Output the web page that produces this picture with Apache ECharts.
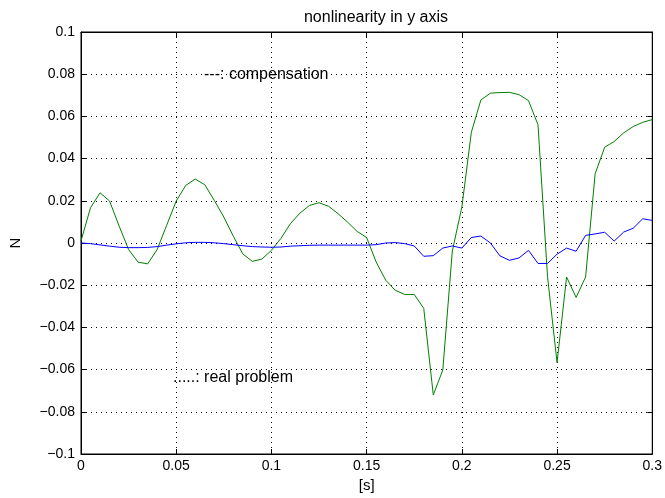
<!DOCTYPE html>
<html>
<head>
<meta charset="utf-8">
<script src="https://cdn.jsdelivr.net/npm/echarts@6/dist/echarts.min.js"></script>
<style>html,body{margin:0;padding:0;background:#fff}#c{width:665px;height:498px}</style>
</head>
<body>
<div id="c"></div>
<script>
const timeS = [0,0.005,0.01,0.015,0.02,0.025,0.03,0.035,0.04,0.045,0.05,0.055,0.06,0.065,0.07,0.075,0.08,0.085,0.09,0.095,
  0.1,0.105,0.11,0.115,0.12,0.125,0.13,0.135,0.14,0.145,0.15,0.155,0.16,0.165,0.17,0.175,0.18,0.185,0.19,0.195,
  0.2,0.205,0.21,0.215,0.22,0.225,0.23,0.235,0.24,0.245,0.25,0.255,0.26,0.265,0.27,0.275,0.28,0.285,0.29,0.295,0.3];
const greenVals = [0.001,0.0167,0.0238,0.0199,0.0081,-0.0031,-0.0091,-0.0099,-0.0031,0.0084,
  0.0199,0.0273,0.0303,0.0276,0.0202,0.0123,0.0032,-0.0052,-0.0087,-0.0076,
  -0.0035,0.0022,0.0092,0.0142,0.0178,0.0191,0.0174,0.0139,0.0099,0.0055,
  0.0026,-0.009,-0.0176,-0.0224,-0.0244,-0.0244,-0.031,-0.072,-0.0602,-0.0038,
  0.017,0.0525,0.0678,0.071,0.0713,0.0714,0.0703,0.0675,0.056,-0.016,
  -0.0567,-0.0161,-0.0258,-0.0161,0.0328,0.0454,0.0481,0.0522,0.0552,0.0572,0.0585];
const blueVals = [0,-0.0003,-0.0009,-0.0015,-0.002,-0.0022,-0.0022,-0.0021,-0.0017,-0.001,
  -0.0004,0.0001,0.0003,0.0003,0.0001,-0.0003,-0.0008,-0.0013,-0.0017,-0.0019,
  -0.002,-0.0019,-0.0015,-0.0013,-0.0011,-0.001,-0.001,-0.001,-0.001,-0.001,
  -0.001,-0.0008,0,0.0002,-0.0003,-0.0014,-0.0063,-0.006,-0.0024,-0.0014,
  -0.0024,0.0026,0.0033,0,-0.0061,-0.0082,-0.0071,-0.0035,-0.0097,-0.0097,
  -0.0053,-0.0024,-0.0039,0.0036,0.0043,0.0051,0.0009,0.0052,0.007,0.0115,0.0107];
const titleText = 'nonlinearity in y axis';
const xName = '[s]';
const yName = 'N';
const note1 = '---: compensation';
const note2 = '.....: real problem';

const font = 'Liberation Sans, Arial, Helvetica, sans-serif';
function fmt(v){
  const r = Math.round(v*1000)/1000;
  if (r === 0) return '0';
  const s = String(Math.abs(r));
  return (r < 0 ? '\u2212' : '') + s;
}
const chart = echarts.init(document.getElementById('c'), null, {renderer:'canvas'});
const gridLine = {show:true, lineStyle:{color:'#000', type:[1,4], width:1}};
const axLine = {show:true, onZero:false, lineStyle:{color:'#000', width:1}};
const tick = {show:true, inside:true, length:5, lineStyle:{color:'#000'}};
chart.setOption({
  animation:false,
  backgroundColor:'#fff',
  title:{text:titleText, left:371, top:5, textAlign:'center',
    textStyle:{fontFamily:font, fontSize:16, fontWeight:'normal', color:'#000'}},
  grid:{left:80, right:11, top:32, bottom:44, show:true, borderColor:'#000', borderWidth:1, containLabel:false},
  xAxis:[{
    type:'value', min:0, max:0.3, interval:0.05, position:'bottom',
    name:xName, nameLocation:'middle', nameGap:24,
    nameTextStyle:{fontFamily:font, fontSize:15, color:'#000'},
    axisLine:axLine, axisTick:tick,
    axisLabel:{fontFamily:font, fontSize:14, color:'#000', margin:5, formatter:fmt, showMaxLabel:true, showMinLabel:true},
    splitLine:gridLine
  },{
    type:'value', min:0, max:0.3, interval:0.05, position:'top',
    axisLine:axLine, axisTick:tick,
    axisLabel:{show:false}, splitLine:{show:false}
  }],
  yAxis:[{
    type:'value', min:-0.1, max:0.1, interval:0.02, position:'left',
    name:yName, nameLocation:'middle', nameGap:58, nameRotate:90,
    nameTextStyle:{fontFamily:font, fontSize:15, color:'#000'},
    axisLine:axLine, axisTick:tick,
    axisLabel:{fontFamily:font, fontSize:14, color:'#000', margin:6, formatter:fmt},
    splitLine:gridLine
  },{
    type:'value', min:-0.1, max:0.1, interval:0.02, position:'right',
    axisLine:axLine, axisTick:tick,
    axisLabel:{show:false}, splitLine:{show:false}
  }],
  graphic:[
    {type:'text', left:204, top:67, style:{text:note1, font:'16px '+font, fill:'#000'}},
    {type:'text', left:173, top:370, style:{text:note2, font:'16px '+font, fill:'#000'}}
  ],
  series:[
    {type:'line', name:'green', data:timeS.map((t,i)=>[t, greenVals[i]]), showSymbol:false,
      lineStyle:{color:'#008000', width:1}, itemStyle:{color:'#008000'}, z:3},
    {type:'line', name:'blue', data:timeS.map((t,i)=>[t, blueVals[i]]), showSymbol:false,
      lineStyle:{color:'#0000ff', width:1}, itemStyle:{color:'#0000ff'}, z:4}
  ]
});
</script>
</body>
</html>
